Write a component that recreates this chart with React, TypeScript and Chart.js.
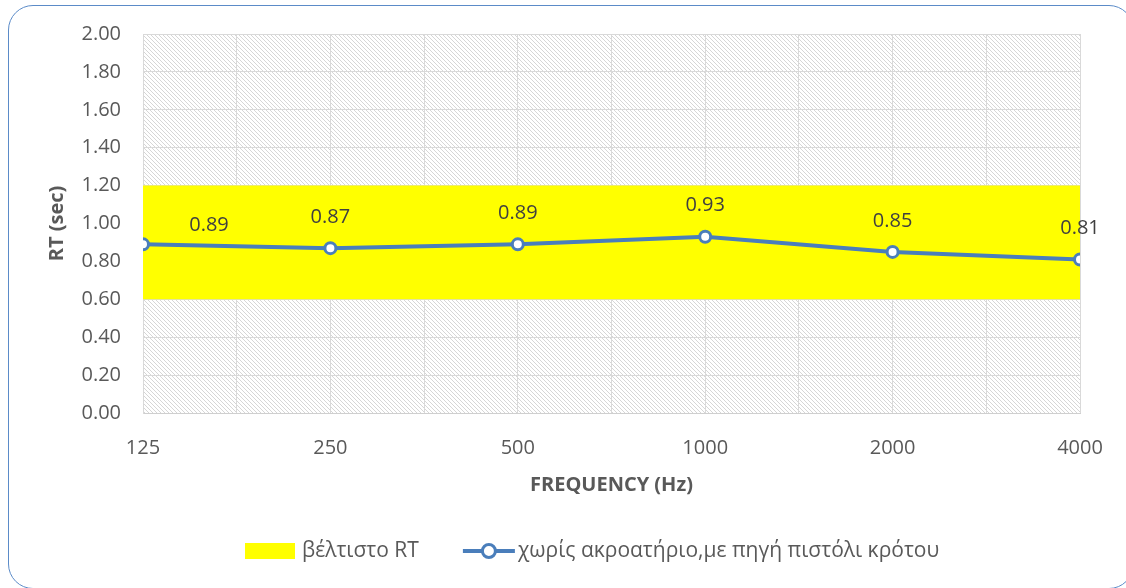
import React, { useEffect, useRef } from "react";
import { Chart, registerables } from "chart.js";

Chart.register(...registerables);

const frequencies = ["125", "250", "500", "1000", "2000", "4000"];
const rtValues = [0.89, 0.87, 0.89, 0.93, 0.85, 0.81];
const optimalLow = [0.6, 0.6, 0.6, 0.6, 0.6, 0.6];
const optimalHigh = [1.2, 1.2, 1.2, 1.2, 1.2, 1.2];
const seriesLabels = ["χωρίς ακροατήριο,με πηγή πιστόλι κρότου", "βέλτιστο RT"];
const yMin = 0;
const yMax = 2;
const yStep = 0.2;

const FONT = '"Open Sans", "Noto Sans", sans-serif';
const BLUE = "#4a7ebb";
const YELLOW = "#ffff00";
const TEXT = "#595959";

function makePattern(): CanvasPattern | string {
  const c = document.createElement("canvas");
  c.width = 8;
  c.height = 8;
  const g = c.getContext("2d");
  if (!g) return "#f2f2f2";
  g.fillStyle = "#ffffff";
  g.fillRect(0, 0, 8, 8);
  g.fillStyle = "#d6d6d6";
  for (let y = 0; y < 8; y++) {
    for (let x = 0; x < 8; x++) {
      if (((x - y) % 4 + 4) % 4 === 0) g.fillRect(x, y, 1, 1);
    }
  }
  const p = g.createPattern(c, "repeat");
  return p || "#f2f2f2";
}

export default function App() {
  const ref = useRef<HTMLCanvasElement | null>(null);

  useEffect(() => {
    document.body.style.margin = "0";
    document.body.style.overflow = "hidden";
    const canvas = ref.current;
    if (!canvas) return;
    const pattern = makePattern();

    const hatchPlugin = {
      id: "hatch",
      beforeDraw(chart: any) {
        const { ctx, chartArea } = chart;
        ctx.save();
        ctx.fillStyle = pattern;
        ctx.fillRect(chartArea.left, chartArea.top, chartArea.right - chartArea.left, chartArea.bottom - chartArea.top);
        ctx.restore();
      },
    };

    const labelPlugin = {
      id: "dataLabels",
      afterDatasetsDraw(chart: any) {
        const meta = chart.getDatasetMeta(0);
        const ctx = chart.ctx;
        ctx.save();
        ctx.font = `20px ${FONT}`;
        ctx.fillStyle = "#404040";
        ctx.textAlign = "center";
        ctx.textBaseline = "middle";
        meta.data.forEach((pt: any, i: number) => {
          let dx = 0;
          let dy = -31;
          if (i === 0) {
            dx = 66;
            dy = -19;
          }
          ctx.fillText(rtValues[i].toFixed(2), pt.x + dx, pt.y + dy);
        });
        ctx.restore();
      },
    };

    const legendPlugin = {
      id: "customLegend",
      afterDraw(chart: any) {
        const ctx = chart.ctx;
        ctx.save();
        ctx.font = `21px ${FONT}`;
        const t1 = seriesLabels[1];
        const t2 = seriesLabels[0];
        const w1 = ctx.measureText(t1).width;
        const boxW = 50;
        const lineW = 52;
        const cy = 551;
        let x = 245;
        ctx.fillStyle = YELLOW;
        ctx.fillRect(x, cy - 8, boxW, 16);
        x += boxW + 7;
        ctx.fillStyle = TEXT;
        ctx.textBaseline = "middle";
        ctx.textAlign = "left";
        ctx.fillText(t1, x, cy);
        x += w1 + 44;
        ctx.strokeStyle = BLUE;
        ctx.lineWidth = 4;
        ctx.beginPath();
        ctx.moveTo(x, cy);
        ctx.lineTo(x + lineW, cy);
        ctx.stroke();
        ctx.beginPath();
        ctx.arc(x + lineW / 2, cy, 6.5, 0, Math.PI * 2);
        ctx.fillStyle = "#ffffff";
        ctx.fill();
        ctx.lineWidth = 3;
        ctx.stroke();
        x += lineW + 3;
        ctx.fillStyle = TEXT;
        ctx.fillText(t2, x, cy);
        ctx.restore();
      },
    };

    const xy = (arr: number[]) => arr.map((v, i) => ({ x: i, y: v }));

    const chart = new Chart(canvas, {
      type: "line",
      data: {
        datasets: [
          {
            label: seriesLabels[0],
            data: xy(rtValues),
            borderColor: BLUE,
            borderWidth: 4,
            pointRadius: 5.5,
            pointBorderWidth: 3,
            pointBackgroundColor: "#ffffff",
            pointBorderColor: BLUE,
            fill: false,
            tension: 0,
          },
          {
            label: "low",
            data: xy(optimalLow),
            borderWidth: 0,
            borderColor: "rgba(0,0,0,0)",
            pointRadius: 0,
            fill: false,
          },
          {
            label: seriesLabels[1],
            data: xy(optimalHigh),
            borderWidth: 0,
            borderColor: "rgba(0,0,0,0)",
            backgroundColor: YELLOW,
            pointRadius: 0,
            fill: "-1",
          },
        ],
      },
      options: {
        animation: false,
        responsive: false,
        layout: { padding: { left: 0, right: 46, top: 34, bottom: 80 } },
        plugins: {
          legend: { display: false },
          tooltip: { enabled: false },
        },
        scales: {
          x: {
            type: "linear",
            min: 0,
            max: frequencies.length - 1,
            afterFit: (s: any) => {
              s.height = 95;
            },
            afterBuildTicks: (s: any) => {
              const t = [];
              for (let i = 0; i <= (frequencies.length - 1) * 2; i++) t.push({ value: i / 2 });
              s.ticks = t;
            },
            ticks: {
              autoSkip: false,
              maxRotation: 0,
              padding: 23,
              color: TEXT,
              font: { family: FONT, size: 20 },
              callback: (v: any) => (Number.isInteger(v) ? frequencies[v] : ""),
            },
            grid: { color: "#d9d9d9", lineWidth: 1, drawTicks: false },
            border: { color: "#cfcfcf", width: 1 },
            title: {
              display: true,
              text: "FREQUENCY (Hz)",
              color: TEXT,
              font: { family: FONT, size: 20, weight: "bold" },
              padding: { top: 0, bottom: 11 },
            },
          },
          y: {
            min: yMin,
            max: yMax,
            afterFit: (s: any) => {
              s.width = 143;
            },
            ticks: {
              stepSize: yStep,
              padding: 22,
              color: TEXT,
              font: { family: FONT, size: 20 },
              callback: (v: any) => Number(v).toFixed(2),
            },
            grid: { color: "#d9d9d9", lineWidth: 1, drawTicks: false },
            border: { color: "#d9d9d9", width: 1 },
            title: {
              display: true,
              text: "RT (sec)",
              color: TEXT,
              font: { family: FONT, size: 20, weight: "bold" },
              padding: { top: 45, bottom: 0 },
            },
          },
        },
      },
      plugins: [hatchPlugin, labelPlugin, legendPlugin],
    } as any);

    return () => chart.destroy();
  }, []);

  return (
    <div style={{ position: "relative", width: 1126, height: 588, overflow: "hidden", background: "#ffffff" }}>
      <canvas ref={ref} width={1126} height={588} style={{ display: "block", position: "absolute", left: 0, top: 0 }} />
      <div
        style={{
          position: "absolute",
          left: 8,
          top: 5,
          width: 1126,
          height: 584,
          border: "1.5px solid #5b8bc8",
          borderRadius: 25,
          boxSizing: "border-box",
          pointerEvents: "none",
        }}
      />
    </div>
  );
}
